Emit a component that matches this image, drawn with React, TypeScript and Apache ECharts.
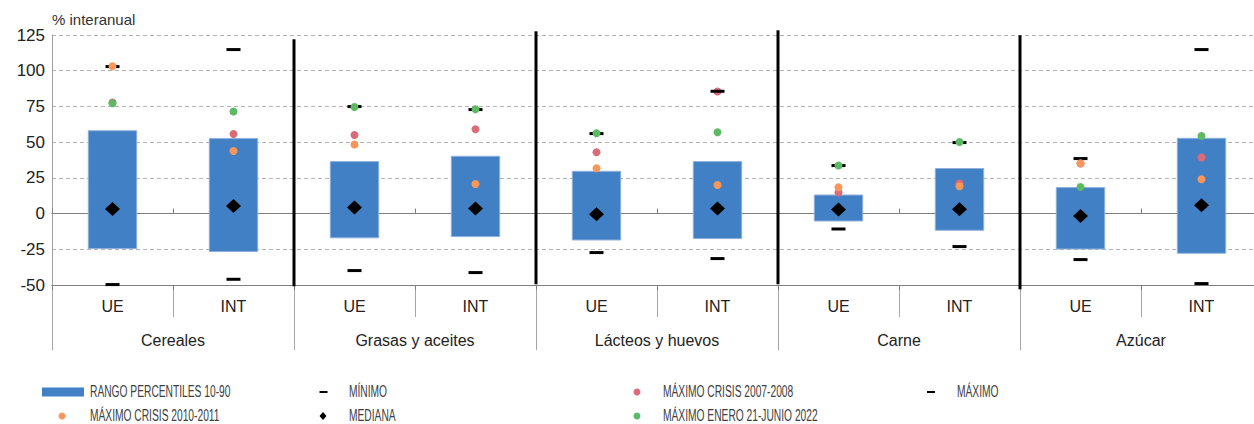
import React, { useEffect, useRef } from "react";
import * as echarts from "echarts";

const categories = ["UE", "INT", "UE", "INT", "UE", "INT", "UE", "INT", "UE", "INT"];
const groups = ["Cereales", "Grasas y aceites", "Lácteos y huevos", "Carne", "Azúcar"];
const yTicks = { min: -50, max: 125, interval: 25 };

const p10 = [-24.5, -26.6, -17, -16.1, -18.5, -17.5, -5.2, -11.7, -24.8, -27.8];
const p90 = [58, 52.5, 36.4, 40.1, 29.6, 36.4, 13, 31.5, 18.2, 52.7];
const mediana = [3.2, 5.3, 4.2, 3.5, -0.5, 3.5, 2.8, 3, -1.7, 5.8];
const minimo = [-49.7, -46, -39.9, -41.3, -27.3, -31.5, -10.8, -23.1, -32.2, -49];
const maximo = [102.9, 114.8, 74.9, 72.8, 56, 85.6, 33.6, 49.7, 38.5, 114.8];
const crisis0708 = [77.8, 55.7, 55, 59, 42.9, 85.4, 14.7, 21, 35, 39.2];
const crisis1011 = [103.1, 43.8, 48.3, 20.7, 31.7, 20, 18.4, 19.1, 35.2, 24];
const enero2022 = [77.2, 71.4, 74.6, 73, 56.2, 56.9, 33.6, 50.1, 18.6, 54.3];

// group separators: after category index, top value, bottom value
const sepAfter = [1, 3, 5, 7];
const sepTop = [122, 127.6, 128.3, 124.8];
const sepBottom = [-50.9, -49.5, -49.5, -53];

const N_RANGE = "RANGO PERCENTILES 10-90";
const N_MIN = "MÍNIMO";
const N_C0708 = "MÁXIMO CRISIS 2007-2008";
const N_MAX = "MÁXIMO";
const N_C1011 = "MÁXIMO CRISIS 2010-2011";
const N_MED = "MEDIANA";
const N_2022 = "MÁXIMO ENERO 21-JUNIO 2022";

const BLUE = "#4180c4";
const RED = "#d96c78";
const ORANGE = "#f7985a";
const GREEN = "#5dba63";

const FONT = "'Liberation Sans', Arial, Helvetica, sans-serif";

export default function App() {
  const ref = useRef<HTMLDivElement>(null);

  useEffect(() => {
    if (!ref.current) return;
    const chart = echarts.init(ref.current, undefined, { renderer: "svg" });

    const pts = (arr: number[]) => arr.map((v, i) => [i, v]);

    // legend entries: kind of icon, icon centre x, row centre y, text x
    const legendDefs = [
      { name: N_RANGE, kind: "bar", ix: 63, cy: 392, tx: 90, color: BLUE },
      { name: N_C1011, kind: "dot", ix: 62, cy: 416, tx: 90, color: ORANGE },
      { name: N_MIN, kind: "dash", ix: 323.5, cy: 392, tx: 349, color: "#000" },
      { name: N_MED, kind: "diamond", ix: 323, cy: 416, tx: 349, color: "#000" },
      { name: N_C0708, kind: "dot", ix: 637, cy: 392, tx: 663, color: RED },
      { name: N_2022, kind: "dot", ix: 637, cy: 416, tx: 663, color: GREEN },
      { name: N_MAX, kind: "dash", ix: 931, cy: 392, tx: 957, color: "#000" },
    ];

    const legendGraphics: any[] = [];
    legendDefs.forEach((d) => {
      if (d.kind === "bar") {
        legendGraphics.push({ type: "rect", shape: { x: d.ix - 21, y: d.cy - 4.5, width: 42, height: 9 }, style: { fill: d.color } });
      } else if (d.kind === "dot") {
        legendGraphics.push({ type: "circle", shape: { cx: d.ix, cy: d.cy, r: 3.5 }, style: { fill: d.color } });
      } else if (d.kind === "dash") {
        legendGraphics.push({ type: "rect", shape: { x: d.ix - 4, y: d.cy - 1, width: 8, height: 2 }, style: { fill: d.color } });
      } else {
        legendGraphics.push({
          type: "polygon",
          shape: { points: [[d.ix, d.cy - 4], [d.ix + 3.5, d.cy], [d.ix, d.cy + 4], [d.ix - 3.5, d.cy]] },
          style: { fill: d.color },
        });
      }
      legendGraphics.push({
        type: "text",
        x: d.tx,
        y: d.cy,
        scaleX: 0.64,
        style: {
          text: d.name,
          fontSize: 16,
          lineHeight: 14,
          fontFamily: FONT,
          fill: "#404040",
          textAlign: "left",
          textVerticalAlign: "middle",
        },
      });
    });

    const scatter = (name: string, data: number[], color: string, symbol: any, size: any, z: number) => ({
      name,
      type: "scatter",
      xAxisIndex: 0,
      yAxisIndex: 0,
      data: pts(data),
      symbol,
      symbolSize: size,
      itemStyle: { color, opacity: 1 },
      z,
      silent: true,
    });

    chart.setOption({
      animation: false,
      title: {
        text: "% interanual",
        left: 52,
        top: 12,
        padding: 0,
        textStyle: { fontSize: 15, fontWeight: "normal", color: "#333", fontFamily: FONT },
      },
      graphic: legendGraphics,
      grid: { left: 52, top: 35, right: 0, height: 250, containLabel: false },
      xAxis: [
        {
          type: "category",
          data: categories,
          position: "bottom",
          axisLine: { show: false, onZero: false },
          axisTick: { show: true, interval: 0, length: 32, lineStyle: { color: "#a6a6a6" } },
          axisLabel: { interval: 0, margin: 13, fontSize: 16, color: "#222", fontFamily: FONT },
          splitLine: { show: false },
        },
        {
          type: "category",
          data: groups,
          position: "bottom",
          axisLine: { show: false, onZero: false },
          axisTick: { show: true, interval: 0, length: 65, lineStyle: { color: "#a6a6a6" } },
          axisLabel: { interval: 0, margin: 47, fontSize: 16, color: "#222", fontFamily: FONT },
          splitLine: { show: false },
        },
        {
          type: "category",
          data: categories,
          position: "bottom",
          axisLine: { show: true, onZero: true, lineStyle: { color: "#7f7f7f", width: 1 } },
          axisTick: { show: true, interval: 0, inside: true, length: 5, lineStyle: { color: "#7f7f7f" } },
          axisLabel: { show: false },
          splitLine: { show: false },
        },
        {
          type: "category",
          data: categories,
          position: "bottom",
          axisLine: { show: true, onZero: true, lineStyle: { color: "#7f7f7f", width: 1 } },
          axisTick: { show: true, interval: 0, inside: false, length: 5, lineStyle: { color: "#7f7f7f" } },
          axisLabel: { show: false },
          splitLine: { show: false },
        },
      ],
      yAxis: {
        type: "value",
        min: yTicks.min,
        max: yTicks.max,
        interval: yTicks.interval,
        axisLine: { show: true, lineStyle: { color: "#a0a0a0" } },
        axisTick: { show: false },
        axisLabel: { fontSize: 17, color: "#222", margin: 7, fontFamily: FONT },
        splitLine: { show: true, lineStyle: { color: "#b3b3b3", type: [4, 3], width: 1 } },
      },
      series: [
        {
          name: N_RANGE,
          type: "custom",
          xAxisIndex: 0,
          yAxisIndex: 0,
          itemStyle: { color: BLUE },
          encode: { x: 0, y: [1, 2] },
          data: p10.map((lo, i) => [i, lo, p90[i]]),
          z: 2,
          silent: true,
          renderItem: (params: any, api: any) => {
            const x = api.value(0);
            const top = api.coord([x, api.value(2)]);
            const bot = api.coord([x, api.value(1)]);
            const w = api.size([1, 0])[0] * 0.4;
            return {
              type: "rect",
              shape: { x: top[0] - w / 2, y: top[1], width: w, height: bot[1] - top[1] },
              style: { fill: BLUE, stroke: "#8fb1dd", lineWidth: 1 },
            };
          },
        },
        scatter(N_C0708, crisis0708, RED, "circle", 8, 3),
        scatter(N_MAX, maximo, "#000", "rect", [14, 3], 4),
        scatter(N_MIN, minimo, "#000", "rect", [14, 3], 4),
        scatter(N_C1011, crisis1011, ORANGE, "circle", 8, 5),
        scatter(N_2022, enero2022, GREEN, "circle", 8, 6),
        scatter(N_MED, mediana, "#000", "diamond", [15, 14], 7),
        {
          name: "separadores",
          type: "custom",
          xAxisIndex: 0,
          yAxisIndex: 0,
          clip: false,
          silent: true,
          z: 8,
          data: sepAfter.map((c, i) => [c, sepTop[i], sepBottom[i]]),
          renderItem: (params: any, api: any) => {
            const c = api.value(0);
            const half = api.size([1, 0])[0] / 2;
            const top = api.coord([c, api.value(1)]);
            const bot = api.coord([c, api.value(2)]);
            return {
              type: "line",
              shape: { x1: top[0] + half, y1: top[1], x2: bot[0] + half, y2: bot[1] },
              style: { stroke: "#000", lineWidth: 3 },
            };
          },
        },
      ],
    });

    return () => chart.dispose();
  }, []);

  return (
    <div
      ref={ref}
      style={{ position: "fixed", left: 0, top: 0, width: 1262, height: 424, background: "#fff" }}
    />
  );
}
